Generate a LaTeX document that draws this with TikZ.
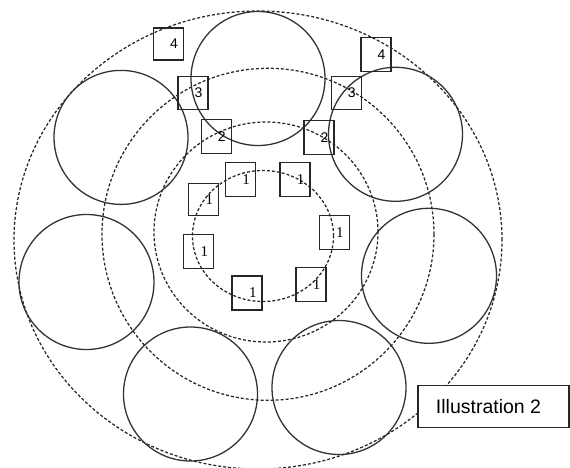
\documentclass[tikz,border=0pt]{standalone}
\usepackage{fontspec}
\setmainfont{Liberation Serif}
\newfontfamily\sansf{Liberation Sans}
\begin{document}
\begin{tikzpicture}[x=1pt,y=-1pt,
  ring/.style={draw=black!80,line width=1.3pt},
  dring/.style={draw=black!85,line width=1.25pt,dash pattern=on 3pt off 2pt},
  numbox/.style={draw=black!85,line width=1.4pt,text width=19pt,align=right,
     inner xsep=5.5pt,inner ysep=0pt,minimum height=34pt,font=\fontsize{15}{15}\selectfont},
  sbox/.style={numbox,font=\sansf\fontsize{14}{14}\selectfont},
  capbox/.style={draw=black!85,line width=1.4pt,fill=white,minimum width=151pt,
     minimum height=42pt,inner sep=0pt,font=\sansf\fontsize{19.5}{20}\selectfont}]
\useasboundingbox (0,0) rectangle (570,467);
% dashed rings
\draw[dring] (258,240) ellipse [x radius=244pt, y radius=229pt];
\draw[dring] (268,234.3) ellipse [x radius=166pt, y radius=166pt];
\draw[dring] (266,232) ellipse [x radius=112pt, y radius=110pt];
\draw[dring] (263,236) ellipse [x radius=70.5pt, y radius=65.5pt];
% solid circles
\draw[ring] (258,78.5) circle [radius=67pt];
\draw[ring] (121,137.4) circle [radius=67pt];
\draw[ring] (395.5,134.3) circle [radius=67pt];
\draw[ring] (86.5,282) circle [radius=67.5pt];
\draw[ring] (429,275.8) circle [radius=67.5pt];
\draw[ring] (190.5,394) circle [radius=67pt];
\draw[ring] (339,387.5) circle [radius=67pt];
% boxes
\node[sbox,minimum height=32pt] (b4l) at (168.5,44) {4};
\node[sbox] (b4r) at (376,54.3) {4};
\node[sbox,minimum height=33pt] (b3l) at (193,92.7) {3};
\node[sbox,minimum height=33pt] (b3r) at (346.2,92.7) {3};
\node[sbox] (b2l) at (216.2,136.2) {2};
\node[sbox] (b2r) at (318.8,137.5) {2};
\node[numbox] (b1a) at (240.4,179.2) {1};
\node[numbox] (b1b) at (294.8,179.2) {1};
\node[numbox,minimum height=32pt] (b1c) at (203.7,199.5) {1};
\node[numbox] (b1d) at (334.2,232.2) {1};
\node[numbox] (b1e) at (198.7,251.3) {1};
\node[numbox] (b1f) at (310.8,284.7) {1};
\node[numbox] (b1g) at (247,293) {1};
% caption
\node[capbox] (cap) at (493.5,406.2) {\hspace*{-10pt}Illustration 2};
\end{tikzpicture}
\end{document}
